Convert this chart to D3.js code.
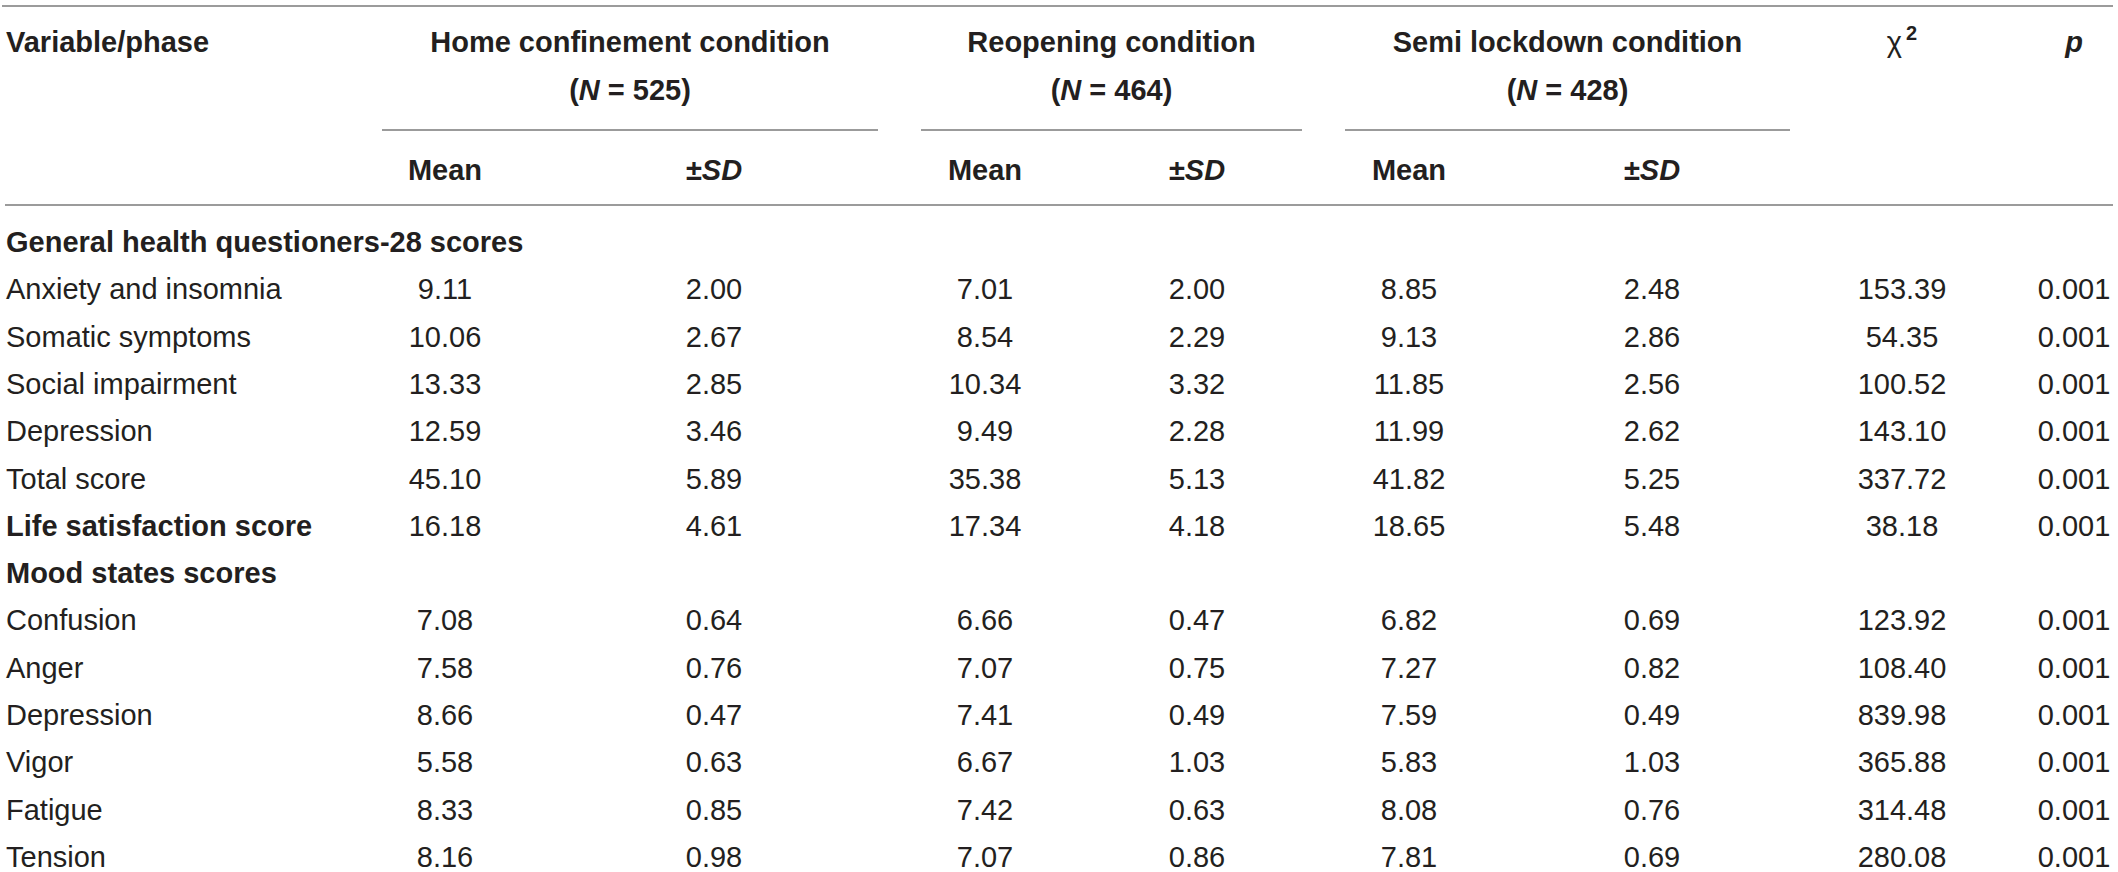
<!DOCTYPE html>
<html lang="en">
<head>
<meta charset="UTF-8"/>
<title>Mental health scores across lockdown phases</title>
<script src="https://d3js.org/d3.v7.min.js"></script>
<style>
    body { margin: 0; background: #fff; }
    text { font-family: "Liberation Sans", Arial, Helvetica, sans-serif; fill: #231f20; }
</style>
</head>
<body>
<script>
    // Table contents
    var variables = [
        "General health questioners-28 scores",
        "Anxiety and insomnia", "Somatic symptoms", "Social impairment", "Depression", "Total score",
        "Life satisfaction score",
        "Mood states scores",
        "Confusion", "Anger", "Depression", "Vigor", "Fatigue", "Tension"
    ];
    // rows printed in bold (section headings)
    var boldRows = [0, 6, 7];

    var homeMean = [null, 9.11, 10.06, 13.33, 12.59, 45.10, 16.18, null, 7.08, 7.58, 8.66, 5.58, 8.33, 8.16];
    var homeSD   = [null, 2.00, 2.67, 2.85, 3.46, 5.89, 4.61, null, 0.64, 0.76, 0.47, 0.63, 0.85, 0.98];
    var reopMean = [null, 7.01, 8.54, 10.34, 9.49, 35.38, 17.34, null, 6.66, 7.07, 7.41, 6.67, 7.42, 7.07];
    var reopSD   = [null, 2.00, 2.29, 3.32, 2.28, 5.13, 4.18, null, 0.47, 0.75, 0.49, 1.03, 0.63, 0.86];
    var semiMean = [null, 8.85, 9.13, 11.85, 11.99, 41.82, 18.65, null, 6.82, 7.27, 7.59, 5.83, 8.08, 7.81];
    var semiSD   = [null, 2.48, 2.86, 2.56, 2.62, 5.25, 5.48, null, 0.69, 0.82, 0.49, 1.03, 0.76, 0.69];
    var chiSquare = [null, 153.39, 54.35, 100.52, 143.10, 337.72, 38.18, null, 123.92, 108.40, 839.98, 365.88, 314.48, 280.08];
    var pValues  = [null, 0.001, 0.001, 0.001, 0.001, 0.001, 0.001, null, 0.001, 0.001, 0.001, 0.001, 0.001, 0.001];

    var groups = ["Home confinement condition", "Reopening condition", "Semi lockdown condition"];
    var groupN = [525, 464, 428];

    // Layout
    var w = 2118;
    var h = 872;
    var fontSize = 29;
    var textColour = "#231f20";
    var ruleColour = "#9b9b9b";

    var columns = ["homeMean", "homeSD", "reopMean", "reopSD", "semiMean", "semiSD", "chi", "p"];
    var columnData = [homeMean, homeSD, reopMean, reopSD, semiMean, semiSD, chiSquare, pValues];

    var xCol = d3.scaleOrdinal()
        .domain(columns)
        .range([445, 714, 985, 1197, 1409, 1652, 1902, 2074]);

    // group spans (left, right) for the rules under the group titles
    var groupSpan = d3.scaleOrdinal()
        .domain(groups)
        .range([[382, 878], [921, 1302], [1345, 1790]]);

    var yRow = d3.scaleLinear()
        .domain([0, variables.length - 1])
        .range([252, 867]);

    var f2 = d3.format(".2f");
    var f3 = d3.format(".3f");

    var svg = d3.select("body")
        .append("svg")
        .attr("width", w)
        .attr("height", h)
        .style("font-size", fontSize + "px");

    // Horizontal rules
    svg.append("line")
        .attr("x1", 2).attr("x2", 2113)
        .attr("y1", 6).attr("y2", 6)
        .attr("stroke", ruleColour).attr("stroke-width", 2);

    svg.append("line")
        .attr("x1", 5).attr("x2", 2113)
        .attr("y1", 205).attr("y2", 205)
        .attr("stroke", ruleColour).attr("stroke-width", 2);

    svg.selectAll(".group-rule")
        .data(groups)
        .enter()
        .append("line")
        .attr("class", "group-rule")
        .attr("x1", d => groupSpan(d)[0])
        .attr("x2", d => groupSpan(d)[1])
        .attr("y1", 130).attr("y2", 130)
        .attr("stroke", ruleColour).attr("stroke-width", 2);

    // Header
    var header = svg.append("g").attr("font-weight", "bold");

    header.append("text")
        .attr("x", 6).attr("y", 52)
        .text("Variable/phase");

    header.selectAll(".group-title")
        .data(groups)
        .enter()
        .append("text")
        .attr("class", "group-title")
        .attr("x", d => (groupSpan(d)[0] + groupSpan(d)[1]) / 2)
        .attr("y", 52)
        .attr("text-anchor", "middle")
        .text(d => d);

    var nLabels = header.selectAll(".group-n")
        .data(groups)
        .enter()
        .append("text")
        .attr("class", "group-n")
        .attr("x", d => (groupSpan(d)[0] + groupSpan(d)[1]) / 2)
        .attr("y", 100)
        .attr("text-anchor", "middle");
    nLabels.append("tspan").text("(");
    nLabels.append("tspan").attr("font-style", "italic").text("N");
    nLabels.append("tspan").text((d, i) => " = " + groupN[i] + ")");

    // Mean / ±SD sub-headers
    var subCols = columns.slice(0, 6);
    var sub = header.selectAll(".sub-head")
        .data(subCols)
        .enter()
        .append("text")
        .attr("class", "sub-head")
        .attr("x", d => xCol(d))
        .attr("y", 180)
        .attr("text-anchor", "middle");
    sub.filter((d, i) => i % 2 === 0).text("Mean");
    var sdHead = sub.filter((d, i) => i % 2 === 1);
    sdHead.append("tspan").text("\u00b1");
    sdHead.append("tspan").attr("font-style", "italic").text("SD");

    var chiHead = svg.append("text")
        .attr("x", xCol("chi"))
        .attr("y", 52)
        .attr("text-anchor", "middle");
    chiHead.append("tspan").text("\u03c7");
    chiHead.append("tspan")
        .attr("font-weight", "bold")
        .attr("font-size", "20px")
        .attr("dx", 4)
        .attr("dy", -12)
        .text("2");

    header.append("text")
        .attr("x", xCol("p"))
        .attr("y", 52)
        .attr("text-anchor", "middle")
        .attr("font-style", "italic")
        .text("p");

    // Body rows
    var rows = svg.selectAll(".row")
        .data(variables)
        .enter()
        .append("g")
        .attr("class", "row")
        .attr("transform", (d, i) => `translate(0,${yRow(i)})`);

    rows.append("text")
        .attr("x", 6)
        .attr("font-weight", (d, i) => boldRows.includes(i) ? "bold" : "normal")
        .text(d => d);

    columns.forEach(function (col, c) {
        rows.append("text")
            .attr("x", xCol(col))
            .attr("text-anchor", "middle")
            .text((d, i) => {
                var v = columnData[c][i];
                if (v === null) return "";
                return col === "p" ? f3(v) : f2(v);
            });
    });
</script>
</body>
</html>
